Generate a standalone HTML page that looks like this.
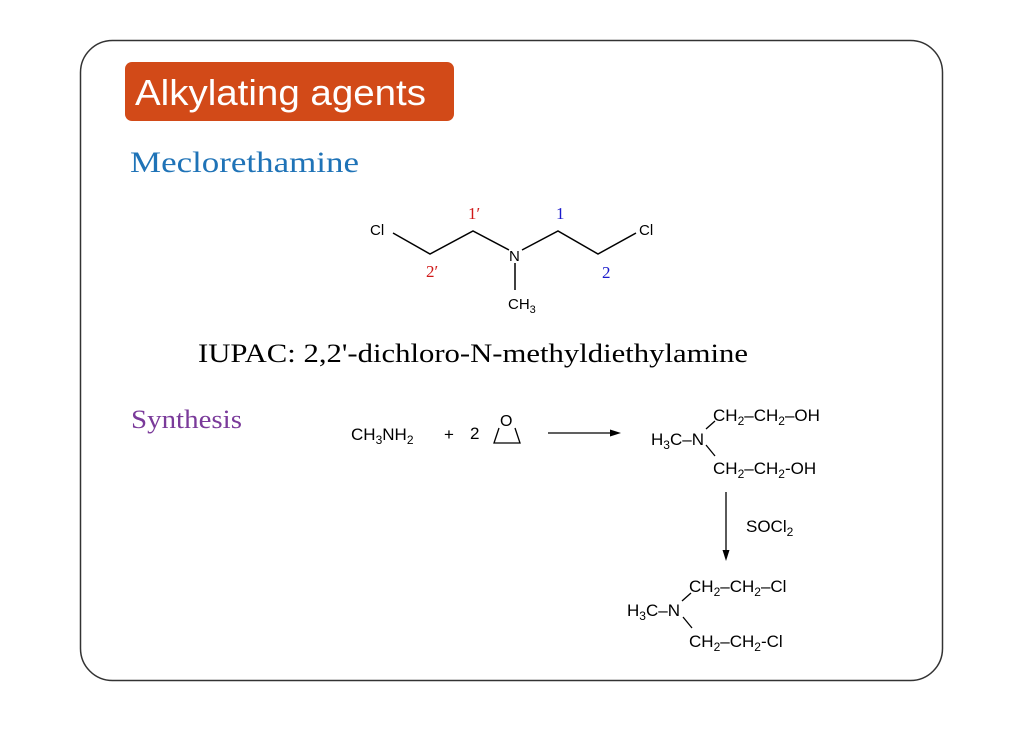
<!DOCTYPE html>
<html><head><style>
body{margin:0;background:#fff;width:1024px;height:724px;overflow:hidden}
svg text{font-family:"Liberation Sans",Arial,sans-serif}
.s{font-family:"Liberation Serif",serif}
</style></head><body>
<svg width="1024" height="724" viewBox="0 0 1024 724" xmlns="http://www.w3.org/2000/svg">
<rect x="80.5" y="40.5" width="862" height="640" rx="32" fill="#fff" stroke="#333" stroke-width="1.5"/>
<rect x="125" y="62" width="329" height="59" rx="7" fill="#D24A18"/>
<text x="135" y="105" font-size="36" fill="#fff" textLength="291" lengthAdjust="spacingAndGlyphs">Alkylating agents</text>
<text x="130" y="172" class="s" font-size="30" fill="#1f73b7" textLength="229" lengthAdjust="spacingAndGlyphs">Meclorethamine</text>
<g stroke="#000" stroke-width="1.5" fill="none">
<polyline points="393,233 430,254 473,231 509,250"/>
<polyline points="522,250 558,231 598,254 636,233"/>
<line x1="515" y1="263" x2="515" y2="290"/>
</g>
<g font-size="15" fill="#000">
<text x="370" y="235">Cl</text>
<text x="639" y="235">Cl</text>
<text x="509" y="261">N</text>
<text x="508" y="309">CH<tspan font-size="11" dy="4">3</tspan></text>
</g>
<g class="s" font-size="17">
<text x="468" y="219" fill="#d01818" class="s">1′</text>
<text x="426" y="277" fill="#d01818" class="s">2′</text>
<text x="556" y="219" fill="#1a1acc" class="s">1</text>
<text x="602" y="278" fill="#1a1acc" class="s">2</text>
</g>
<text x="198" y="362" class="s" font-size="26" fill="#000" textLength="550" lengthAdjust="spacingAndGlyphs">IUPAC: 2,2'-dichloro-N-methyldiethylamine</text>
<text x="131" y="428" class="s" font-size="26" fill="#7a3a9a" textLength="111" lengthAdjust="spacingAndGlyphs">Synthesis</text>
<g font-size="17" fill="#000">
<text x="351" y="440">CH<tspan font-size="12" dy="4">3</tspan><tspan dy="-4">NH</tspan><tspan font-size="12" dy="4">2</tspan></text>
<text x="444" y="440">+</text>
<text x="470" y="439">2</text>
<text x="500" y="426" font-size="16">O</text>
<text x="651" y="445">H<tspan font-size="12" dy="4">3</tspan><tspan dy="-4">C–N</tspan></text>
<text x="713" y="421">CH<tspan font-size="12" dy="4">2</tspan><tspan dy="-4">–CH</tspan><tspan font-size="12" dy="4">2</tspan><tspan dy="-4">–OH</tspan></text>
<text x="713" y="474">CH<tspan font-size="12" dy="4">2</tspan><tspan dy="-4">–CH</tspan><tspan font-size="12" dy="4">2</tspan><tspan dy="-4">-OH</tspan></text>
<text x="746" y="532">SOCl<tspan font-size="12" dy="4">2</tspan></text>
<text x="627" y="616">H<tspan font-size="12" dy="4">3</tspan><tspan dy="-4">C–N</tspan></text>
<text x="689" y="592">CH<tspan font-size="12" dy="4">2</tspan><tspan dy="-4">–CH</tspan><tspan font-size="12" dy="4">2</tspan><tspan dy="-4">–Cl</tspan></text>
<text x="689" y="647">CH<tspan font-size="12" dy="4">2</tspan><tspan dy="-4">–CH</tspan><tspan font-size="12" dy="4">2</tspan><tspan dy="-4">-Cl</tspan></text>
</g>
<g stroke="#000" stroke-width="1.3" fill="none">
<polyline points="499,428 494,443 520,443 515,428"/>
<line x1="548" y1="433" x2="612" y2="433"/>
<line x1="706" y1="429" x2="715" y2="421"/>
<line x1="706" y1="445" x2="715" y2="456"/>
<line x1="726" y1="492" x2="726" y2="552"/>
<line x1="682" y1="601" x2="691" y2="593"/>
<line x1="683" y1="617" x2="692" y2="628"/>
</g>
<polygon points="621,433 610,429.5 610,436.5" fill="#000"/>
<polygon points="726,561 722.5,550 729.5,550" fill="#000"/>
</svg>
</body></html>
